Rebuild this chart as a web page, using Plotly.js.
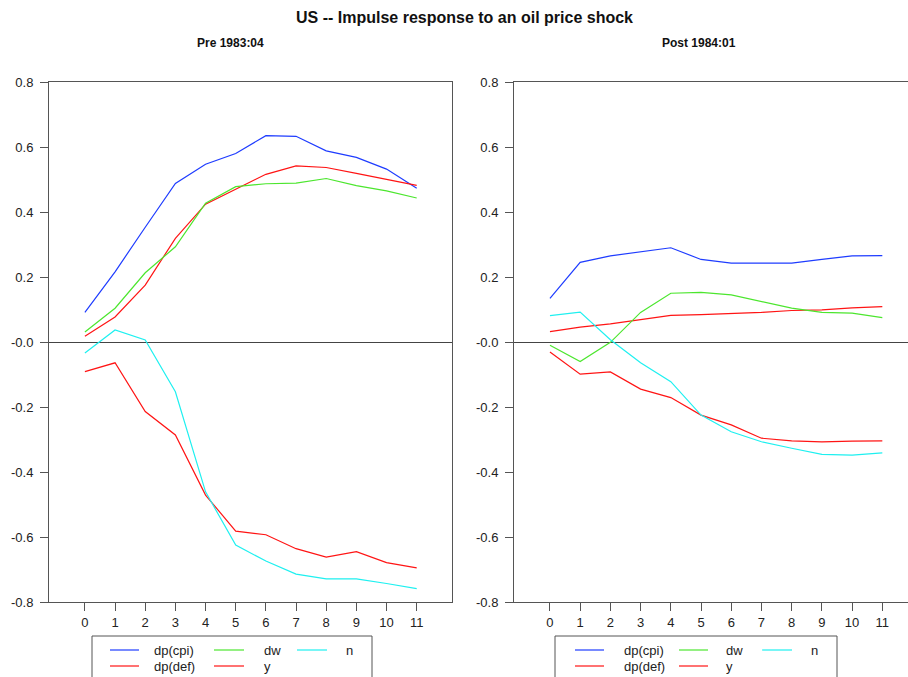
<!DOCTYPE html>
<html>
<head>
<meta charset="utf-8">
<script src="https://cdn.plot.ly/plotly-3.0.1.min.js"></script>
<style>
html,body{margin:0;padding:0;background:#fff;}
#chart{width:908px;height:677px;}
</style>
</head>
<body>
<div id="chart"></div>
<script>
// ---------------- data ----------------
const horizons = [0, 1, 2, 3, 4, 5, 6, 7, 8, 9, 10, 11];

const seriesNames = ['dp(cpi)', 'dp(def)', 'dw', 'y', 'n'];
const seriesColors = ['#1e3cff', '#ff1414', '#4ce62e', '#ff1414', '#1ef0f0'];

// Pre 1983:04
const preCpi = [0.091, 0.216, 0.353, 0.488, 0.547, 0.580, 0.635, 0.633, 0.588, 0.568, 0.532, 0.473];
const preDef = [0.018, 0.077, 0.175, 0.319, 0.424, 0.470, 0.516, 0.542, 0.537, 0.519, 0.501, 0.482];
const preDw  = [0.031, 0.104, 0.213, 0.293, 0.427, 0.478, 0.487, 0.489, 0.503, 0.481, 0.465, 0.443];
const preY   = [-0.091, -0.064, -0.214, -0.286, -0.471, -0.582, -0.593, -0.636, -0.662, -0.645, -0.679, -0.695];
const preN   = [-0.034, 0.037, 0.006, -0.153, -0.461, -0.625, -0.674, -0.714, -0.729, -0.729, -0.743, -0.759];

// Post 1984:01
const postCpi = [0.134, 0.245, 0.265, 0.277, 0.290, 0.254, 0.243, 0.243, 0.243, 0.254, 0.265, 0.266];
const postDef = [0.032, 0.046, 0.056, 0.069, 0.082, 0.084, 0.087, 0.091, 0.097, 0.099, 0.105, 0.109];
const postDw  = [-0.010, -0.060, -0.001, 0.091, 0.150, 0.153, 0.145, 0.124, 0.104, 0.091, 0.089, 0.075];
const postY   = [-0.031, -0.099, -0.092, -0.145, -0.171, -0.225, -0.255, -0.296, -0.304, -0.307, -0.305, -0.304];
const postN   = [0.081, 0.092, 0.007, -0.064, -0.122, -0.225, -0.276, -0.307, -0.327, -0.346, -0.348, -0.341];

const yTickVals = [-0.8, -0.6, -0.4, -0.2, 0, 0.2, 0.4, 0.6, 0.8];
const yTickText = ['-0.8', '-0.6', '-0.4', '-0.2', '-0.0', '0.2', '0.4', '0.6', '0.8'];

const chartTitle = 'US -- Impulse response to an oil price shock';
const panelTitles = ['Pre 1983:04', 'Post 1984:01'];

// ---------------- layout helpers ----------------
const W = 908, H = 677;
const px = v => v / W;
const py = v => 1 - v / H;
const FONT = 'Liberation Sans, Arial, Helvetica, sans-serif';

const preSeries = [preCpi, preDef, preDw, preY, preN];
const postSeries = [postCpi, postDef, postDw, postY, postN];

const traces = [];
preSeries.forEach((vals, i) => traces.push({
  x: horizons, y: vals, type: 'scatter', mode: 'lines', name: seriesNames[i],
  line: {color: seriesColors[i], width: 1.2}, xaxis: 'x', yaxis: 'y', showlegend: false,
  hoverinfo: 'skip'
}));
postSeries.forEach((vals, i) => traces.push({
  x: horizons, y: vals, type: 'scatter', mode: 'lines', name: seriesNames[i],
  line: {color: seriesColors[i], width: 1.2}, xaxis: 'x2', yaxis: 'y2', showlegend: false,
  hoverinfo: 'skip'
}));

const yDomain = [py(602), py(82)];
function xAxis(domain, range, anchor) {
  return {
    domain: domain, range: range, anchor: anchor,
    tickmode: 'array', tickvals: horizons, ticktext: horizons.map(String),
    ticks: 'outside', ticklen: 8, tickwidth: 1, tickcolor: '#555',
    showline: true, linecolor: '#555', linewidth: 1, mirror: true,
    showgrid: false, zeroline: false, fixedrange: true,
    tickfont: {family: FONT, size: 13, color: '#222'}
  };
}
function yAxis(anchor) {
  return {
    domain: yDomain, range: [-0.8, 0.8], anchor: anchor,
    tickmode: 'array', tickvals: yTickVals, ticktext: yTickText,
    ticks: 'outside', ticklen: 8, tickwidth: 1, tickcolor: '#555',
    showline: true, linecolor: '#555', linewidth: 1, mirror: true,
    showgrid: false, zeroline: true, zerolinecolor: '#444', zerolinewidth: 1,
    ticklabelstandoff: 4, fixedrange: true,
    tickfont: {family: FONT, size: 13, color: '#222'}
  };
}

const shapes = [];
const annotations = [];

annotations.push({
  text: '<b>' + chartTitle + '</b>', xref: 'paper', yref: 'paper',
  x: px(464), y: py(18), xanchor: 'center', yanchor: 'middle', showarrow: false,
  font: {family: FONT, size: 16, color: '#111'}
});
annotations.push({
  text: '<b>' + panelTitles[0] + '</b>', xref: 'paper', yref: 'paper',
  x: px(231), y: py(43), xanchor: 'center', yanchor: 'middle', showarrow: false,
  font: {family: FONT, size: 12, color: '#111'}
});
annotations.push({
  text: '<b>' + panelTitles[1] + '</b>', xref: 'paper', yref: 'paper',
  x: px(699), y: py(43), xanchor: 'center', yanchor: 'middle', showarrow: false,
  font: {family: FONT, size: 12, color: '#111'}
});

// custom legends (3 columns x 2 rows, column-major)
const legendOrder = [0, 1, 2, 3, 4]; // dp(cpi), dp(def), dw, y, n
function addLegend(boxL, boxR, cols) {
  shapes.push({type: 'rect', xref: 'paper', yref: 'paper',
    x0: px(boxL), x1: px(boxR), y0: py(690), y1: py(636),
    line: {color: '#555', width: 1}, fillcolor: 'rgba(0,0,0,0)'});
  const rows = [650, 666];
  legendOrder.forEach((si, k) => {
    const c = Math.floor(k / 2), r = k % 2;
    const col = cols[c];
    shapes.push({type: 'line', xref: 'paper', yref: 'paper',
      x0: px(col[0]), x1: px(col[1]), y0: py(rows[r]), y1: py(rows[r]),
      line: {color: seriesColors[si], width: 1.2}});
    annotations.push({text: seriesNames[si], xref: 'paper', yref: 'paper',
      x: px(col[2]), y: py(rows[r]), xanchor: 'left', yanchor: 'middle', showarrow: false,
      font: {family: FONT, size: 13, color: '#222'}});
  });
}
addLegend(92, 372, [[110, 139, 152], [214, 244, 262], [297, 327, 344]]);
addLegend(555, 837, [[575, 604, 622], [679, 708, 724], [762, 792, 809]]);

const layout = {
  width: W, height: H,
  margin: {l: 0, r: 0, t: 0, b: 0},
  paper_bgcolor: '#fff', plot_bgcolor: '#fff',
  showlegend: false,
  xaxis: xAxis([px(49), px(452)], [-1.19, 12.17], 'y'),
  yaxis: yAxis('x'),
  xaxis2: xAxis([px(514), 1], [-1.19, 11.85], 'y2'),
  yaxis2: yAxis('x2'),
  shapes: shapes,
  annotations: annotations
};

Plotly.newPlot('chart', traces, layout, {displayModeBar: false, staticPlot: true});
</script>
</body>
</html>
